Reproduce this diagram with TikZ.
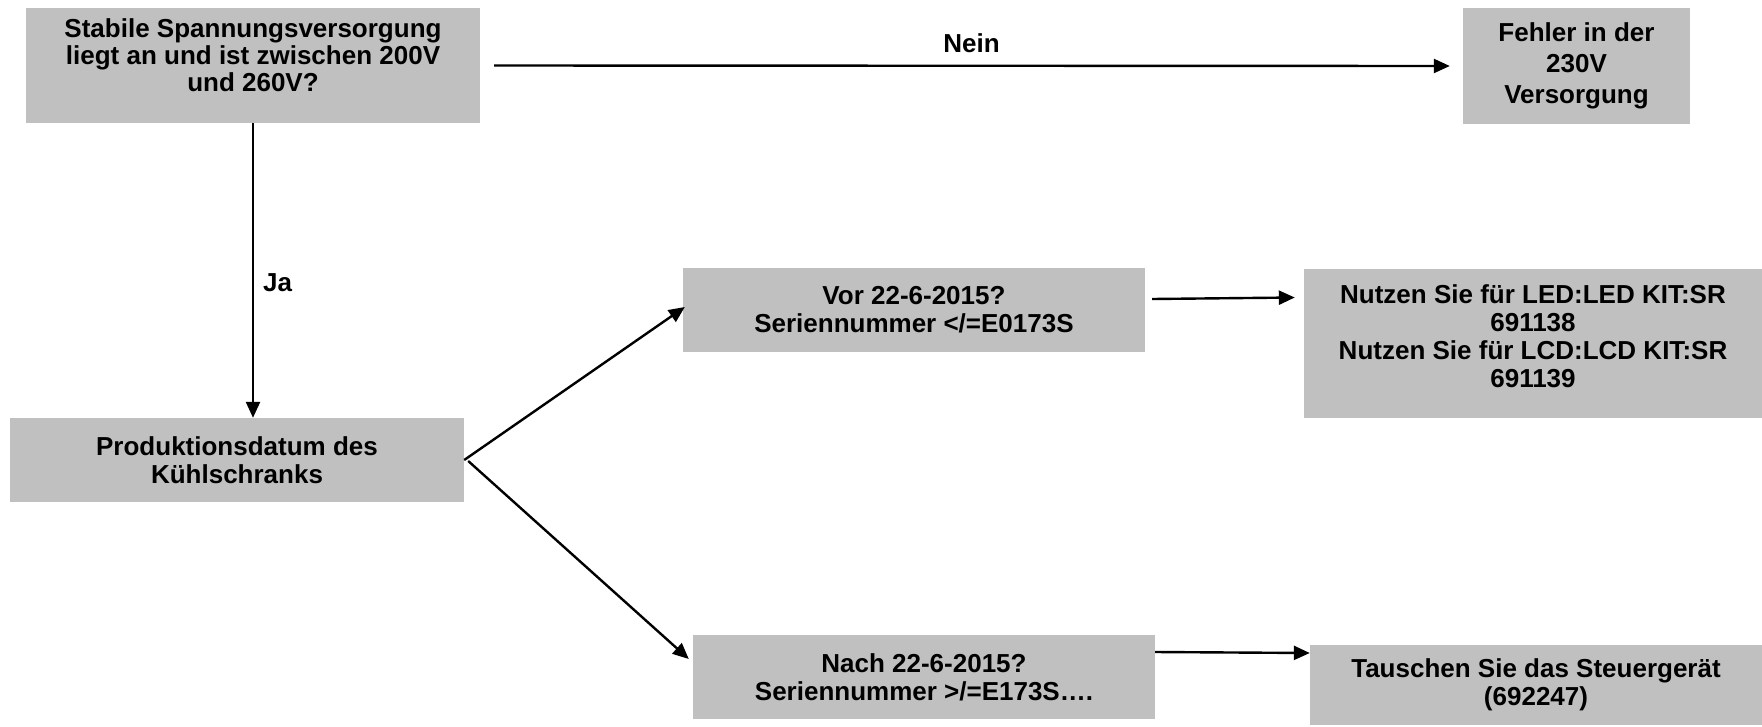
\documentclass[tikz,border=0pt]{standalone}
\usepackage{fontspec}
\setmainfont{Liberation Sans}
\usetikzlibrary{arrows.meta,calc}
\definecolor{boxgray}{HTML}{C0C0C0}
\begin{document}
\begin{tikzpicture}[x=1pt,y=-1pt,
  font=\fontsize{26}{28}\selectfont\bfseries,
  box/.style={fill=boxgray,draw=none,inner sep=0pt,align=center,anchor=center},
  conn/.style={line width=2.4pt,-{Triangle[length=16pt,width=14pt]}},
  lbl/.style={inner sep=0pt}]
\useasboundingbox (0,0) rectangle (1762,726);
\node[box,minimum width=454,minimum height=115] (b1) at (253,65.5) {};
\node[inner sep=0pt,align=center,font=\fontsize{26}{27}\selectfont\bfseries] (b1t) at (253,55)
  {Stabile Spannungsversorgung\\liegt an und ist zwischen 200V\\und 260V?};
\node[box,minimum width=227,minimum height=116,font=\fontsize{26}{31}\selectfont\bfseries] (fe) at (1576.5,66)
  {Fehler in der\\230V\\Versorgung};
\node[box,minimum width=454,minimum height=84] (pr) at (237,460)
  {Produktionsdatum des\\Kühlschranks};
\node[box,minimum width=462,minimum height=84] (vo) at (914,310)
  {Vor 22-6-2015?\\Seriennummer </=E0173S};
\node[box,minimum width=462,minimum height=84] (na) at (924,677)
  {Nach 22-6-2015?\\Seriennummer >/=E173S….};
\node[box,minimum width=458,minimum height=149] (nu) at (1533,343.5) {};
\node[inner sep=0pt,align=center] (nut) at (1533,336)
  {Nutzen Sie für LED:LED KIT:SR\\691138\\Nutzen Sie für LCD:LCD KIT:SR\\691139};
\node[box,minimum width=452,minimum height=80] (ta) at (1536,685)
  {Tauschen Sie das Steuergerät\\(692247)};
\draw[conn,shorten <=14pt,shorten >=13pt] (b1.east) -- node[lbl,above=12pt] (nein) {Nein} (fe.west);
\draw[conn] (b1.south) -- node[lbl,right=9pt,pos=0.54] (ja) {Ja} (b1.south |- pr.north);
\draw[conn] (pr.east) -- ([shift={(2,-3)}]vo.west);
\draw[conn] ([shift={(4,1)}]pr.east) -- ([shift={(-4,-18)}]na.west);
\draw[conn] ([shift={(7,-11)}]vo.east) -- ([shift={(-9,-46)}]nu.west);
\draw[conn] ([shift={(0,-25)}]na.east) -- ([shift={(0,-32)}]ta.west);
\end{tikzpicture}
\end{document}
